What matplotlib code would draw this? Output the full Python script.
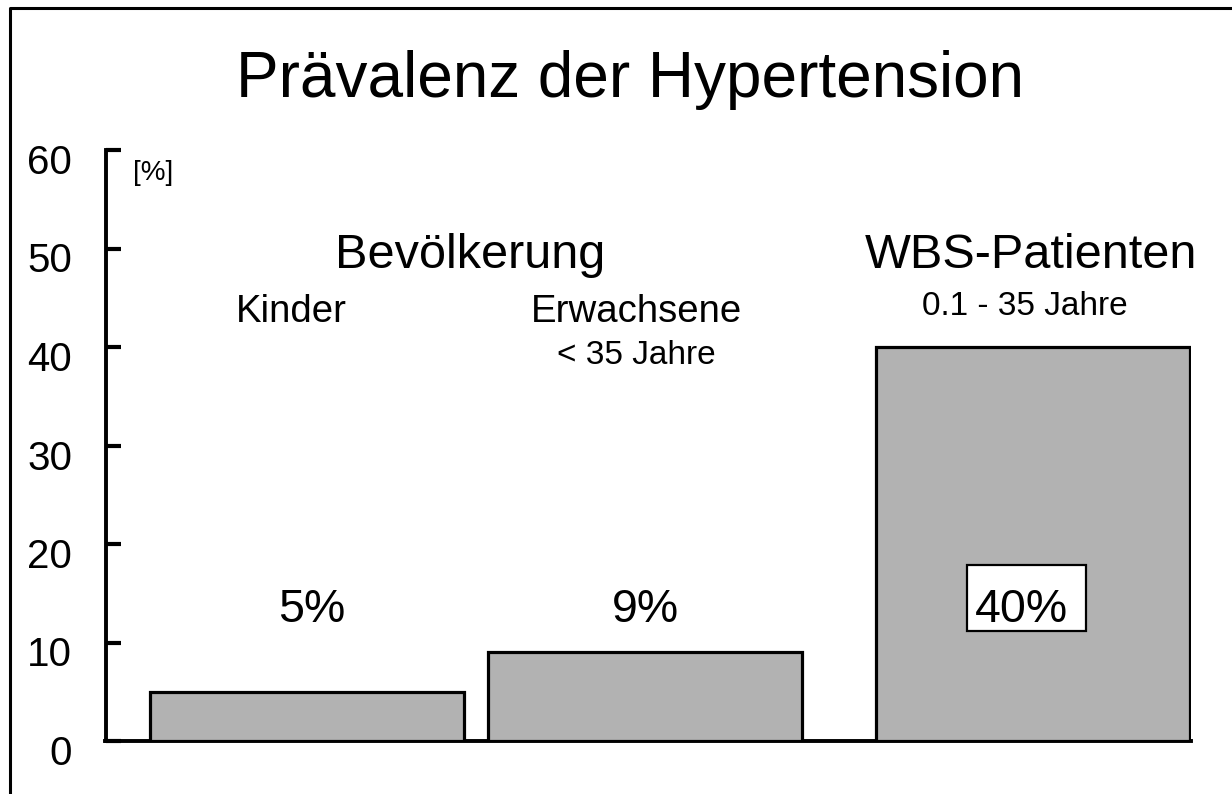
import matplotlib
matplotlib.use("Agg")
import matplotlib.pyplot as plt
from matplotlib.lines import Line2D
from matplotlib.patches import Rectangle
from matplotlib.transforms import ScaledTranslation

plt.rcParams['font.family'] = ['Liberation Sans', 'DejaVu Sans']

# ---- data ----
categories = ["Kinder", "Erwachsene", "WBS-Patienten"]
values = [5, 9, 40]
value_labels = ["5%", "9%", "40%"]
yticks = [0, 10, 20, 30, 40, 50, 60]

# ---- layout ----
xpos = [0.0, 1.0, 2.15]
bar_width = 0.93
W, H = 1232, 794
fig = plt.figure(figsize=(W / 100, H / 100), dpi=100)
ax = fig.add_axes([105.5 / W, (H - 741) / H, (1191 - 105.5) / W, (741 - 150) / H])

ax.bar(xpos, values, width=bar_width, color="#b2b2b2", edgecolor="black",
       linewidth=2.3, zorder=3)

ax.set_xlim(-0.598, 2.618)
ax.set_ylim(0, 60)
ax.set_yticks(yticks)
ax.set_yticklabels([str(t) for t in yticks])
ax.set_xticks([])
for s in ["top", "right"]:
    ax.spines[s].set_visible(False)
for s in ["left", "bottom"]:
    ax.spines[s].set_linewidth(2.8)
ax.tick_params(axis="y", direction="in", length=10.5, width=3.0, pad=24,
               labelsize=29)
off = ScaledTranslation(0, -9 / 100, fig.dpi_scale_trans)
for lab in ax.get_yticklabels():
    lab.set_transform(lab.get_transform() + off)

# texts
fig.text(630 / W, 1 - 97 / H, "Prävalenz der Hypertension", ha="center",
         va="baseline", fontsize=46)
ax.text(0.481, 48.0, "Bevölkerung", ha="center", va="baseline", fontsize=35)
ax.text(2.145, 48.0, "WBS-Patienten", ha="center", va="baseline", fontsize=35)
ax.text(-0.046, 42.5, categories[0], ha="center", va="baseline", fontsize=27.6)
ax.text(0.976, 42.5, categories[1], ha="center", va="baseline", fontsize=27.6)
ax.text(0.976, 38.3, "< 35 Jahre", ha="center", va="baseline", fontsize=24)
ax.text(2.126, 43.25, "0.1 - 35 Jahre", ha="center", va="baseline", fontsize=24)
ax.text(-0.516, 56.95, "[%]", ha="left", va="baseline", fontsize=20)

label_x = [0.012, 1.003, 2.116]
for i, (lx, lt) in enumerate(zip(label_x, value_labels)):
    ax.text(lx, 12.08, lt, ha="center", va="baseline", fontsize=33.5, zorder=6)

# white box around the WBS value label
ax.add_patch(Rectangle((1.953, 11.17), 2.308 - 1.953, 17.87 - 11.17,
                       facecolor="white", edgecolor="black", linewidth=1.6,
                       zorder=5))

# frame lines (left and top)
fig.add_artist(Line2D([10 / W, 10 / W, 1.0], [0.0, 1 - 8 / H, 1 - 8 / H],
                      transform=fig.transFigure, color="black", linewidth=2.2))

fig.savefig("out.png", dpi=100)
